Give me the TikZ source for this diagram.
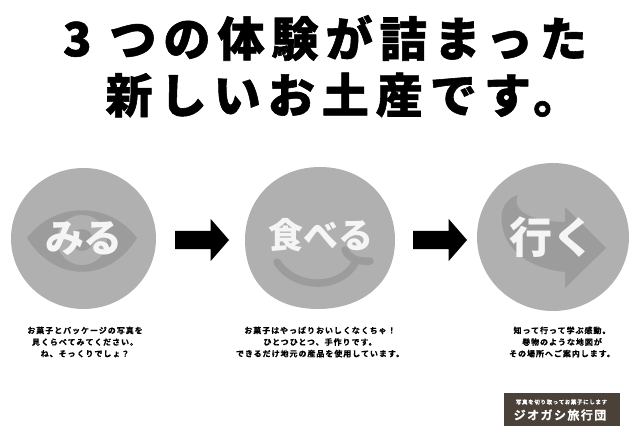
\documentclass[tikz,border=0pt]{standalone}
\usepackage{fontspec}
\usetikzlibrary{shapes.geometric,shapes.arrows}
\newfontfamily\jpfont{Noto Sans CJK JP Black}[FakeBold=1.2,LetterSpace=15]
\newfontfamily\jpsmall{Noto Sans CJK JP Bold}[FakeBold=0.5,LetterSpace=12]
\newfontfamily\jpplain{Noto Sans CJK JP Black}
\definecolor{discgray}{HTML}{B0B0B0}
\definecolor{markgray}{HTML}{9C9C9C}
\definecolor{badgebrown}{HTML}{4A4138}

\begin{document}
\begin{tikzpicture}[x=1pt,y=-1pt,node distance=238pt]
  \tikzstyle{disc} = [ellipse, fill=discgray, inner sep=0pt]
  \tikzstyle{headline} = [font=\jpfont\fontsize{47}{50}\selectfont, inner sep=0pt]
  \tikzstyle{caption} = [font=\jpsmall\fontsize{8}{11.6}\selectfont, align=center, inner sep=0pt]
  \tikzstyle{keyword} = [font=\jpplain\fontsize{39}{42}\selectfont, text=white!96!black, inner sep=0pt]
  \tikzstyle{blockarrow} = [single arrow, fill=black, inner xsep=0pt, inner ysep=9pt, minimum height=54pt,
    minimum width=42pt, single arrow head extend=12pt, single arrow tip angle=98]
  \useasboundingbox (0,0) rectangle (640,433);

  \node[headline] (line1) at (325,38) {3 つの体験が詰まった};
  \node[headline] (line2) at (343,95) {新しいお土産です。};

  % see
  \node[disc,minimum width=145pt,minimum height=141pt] (see) at (83.5,238.5) {};
  \fill[markgray] (27,238) .. controls (55,201) and (109,201) .. (137,238)
                           .. controls (109,283) and (55,283) .. (27,238);
  \node[circle,fill=discgray,minimum size=50pt,inner sep=0pt] (iris) at (82,240) {};
  \node[circle,fill=markgray,minimum size=22pt,inner sep=0pt] (pupil) at (iris) {};
  \node[keyword] (seeword) at (84,239) {みる};

  % eat
  \fill[discgray] (320,167) .. controls (365,167) and (395,200) .. (395,240)
                  .. controls (395,285) and (360,309) .. (318,309)
                  .. controls (275,309) and (245,285) .. (245,240)
                  .. controls (245,200) and (275,167) .. (320,167);
  \draw[markgray,line width=7.5pt,line cap=round] (277,262) .. controls (295,290) and (340,290) .. (355,263)
        (345,250) .. controls (349,258) and (357,262) .. (370,261);
  \node[keyword,font=\jpplain\fontsize{35}{40}\selectfont] (eatword) at (321,235) {食べる};

  % go
  \node[disc,minimum width=152pt,minimum height=148pt] (go) at (553,237) {};
  \fill[markgray] (518,195) .. controls (510,212) and (535,222) .. (565,222) -- (565,207) -- (606,248)
        -- (565,288) -- (565,272) .. controls (525,268) and (498,245) .. (502,212)
        .. controls (504,204) and (510,197) .. (518,195);
  \node[keyword,font=\jpplain\fontsize{43}{46}\selectfont] (goword) at (552,237) {行く};

  \node[blockarrow] (arrow1) at (198,240) {};
  \node[blockarrow] (arrow2) [right of=arrow1] {};

  \node[caption] (seetext) at (85,342) {お菓子とパッケージの写真を\\見くらべてみてください。\\ね、そっくりでしょ？};
  \node[caption] (eattext) at (320,342) {お菓子はやっぱりおいしくなくちゃ！\\ひとつひとつ、手作りです。\\できるだけ地元の産品を使用しています。};
  \node[caption] (gotext) at (562,342) {知って行って学ぶ感動。\\巻物のような地図が\\その場所へご案内します。};

  \node[fill=badgebrown,minimum width=116pt,minimum height=33pt,inner sep=0pt] (badge) at (562,409.5) {};
  \node[font=\jpsmall\fontsize{5.5}{6}\selectfont,text=white,inner sep=0pt] (badgetop) at (561.5,402) {写真を切り取ってお菓子にします};
  \node[font=\jpsmall\fontsize{12}{13}\selectfont,text=white,inner sep=0pt] (badgename) at (560,415) {ジオガシ旅行団};
\end{tikzpicture}
\end{document}
